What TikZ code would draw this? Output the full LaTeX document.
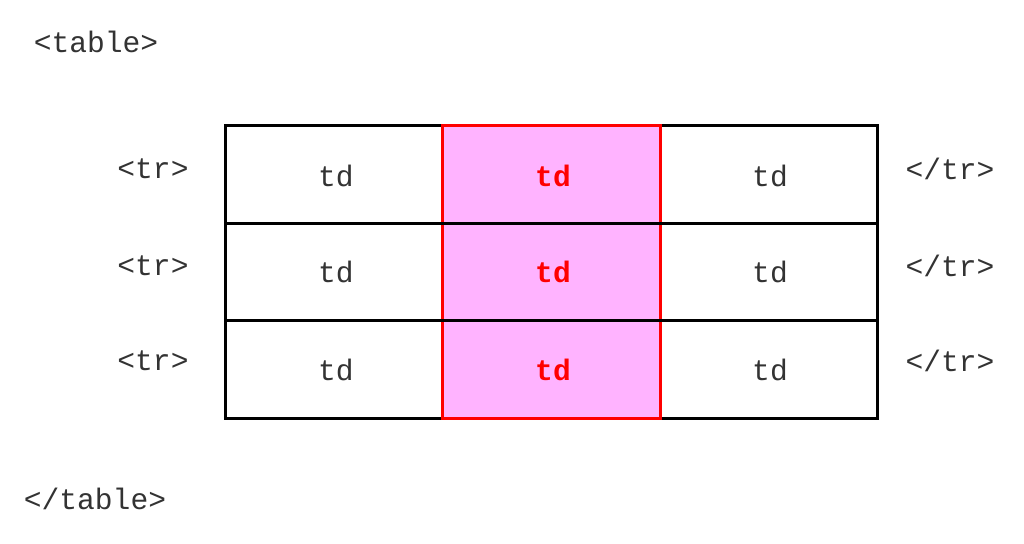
\documentclass[tikz,border=0pt]{standalone}
\usepackage{fontspec}
\setmonofont{Liberation Mono}
\definecolor{cellpink}{HTML}{FFB3FF}
\definecolor{cellred}{HTML}{FF0000}
\definecolor{txtgray}{HTML}{333333}
\begin{document}
\begin{tikzpicture}[x=0.5pt,y=-0.5pt,
  lbl/.style={font=\ttfamily\fontsize{14.8}{16}\selectfont, text=txtgray, inner sep=0pt, anchor=center},
  blbl/.style={font=\ttfamily\bfseries\fontsize{14.8}{16}\selectfont, text=cellred, inner sep=0pt, anchor=center},
  cell/.style={draw=none, minimum width=108.5pt, minimum height=48.75pt, inner sep=0pt},
  hcell/.style={cell, fill=cellpink},
  grid/.style={line width=1.5pt, line cap=rect}]
\useasboundingbox (0,0) rectangle (1024,543);
\fill[white] (0,0) rectangle (1024,543);
% cells
\foreach \r/\y in {1/174.75,2/272.25,3/369.75}{
  \node[cell] (c\r1) at (334.5,\y) {};
  \node[hcell] (c\r2) at (551.5,\y) {};
  \node[cell] (c\r3) at (769,\y) {};
}
% outer frame and row lines
\draw[grid] (c11.north west) rectangle (c33.south east);
\draw[grid] (c21.north west) -- (c23.north east);
\draw[grid] (c31.north west) -- (c33.north east);
% red column border
\draw[grid, cellred] (c12.north west) rectangle (c32.south east);
\draw[grid] (c21.north west) -- (c23.north east);
\draw[grid] (c31.north west) -- (c33.north east);
% texts
\foreach \r/\y in {1/176,2/272,3/370}{
  \node[lbl] (t\r1) at (336,\y) {td};
  \node[blbl] (t\r2) at (553,\y) {td};
  \node[lbl] (t\r3) at (770,\y) {td};
}
\foreach \r/\y in {1/169,2/266,3/361}{
  \node[lbl] (o\r) at (153,\y) {<tr>};
  \node[lbl] (e\r) at (950,\y) {</tr>};
}
\node[lbl] (tab) at (96,42) {<table>};
\node[lbl] (etab) at (95,499) {</table>};
\end{tikzpicture}
\end{document}
